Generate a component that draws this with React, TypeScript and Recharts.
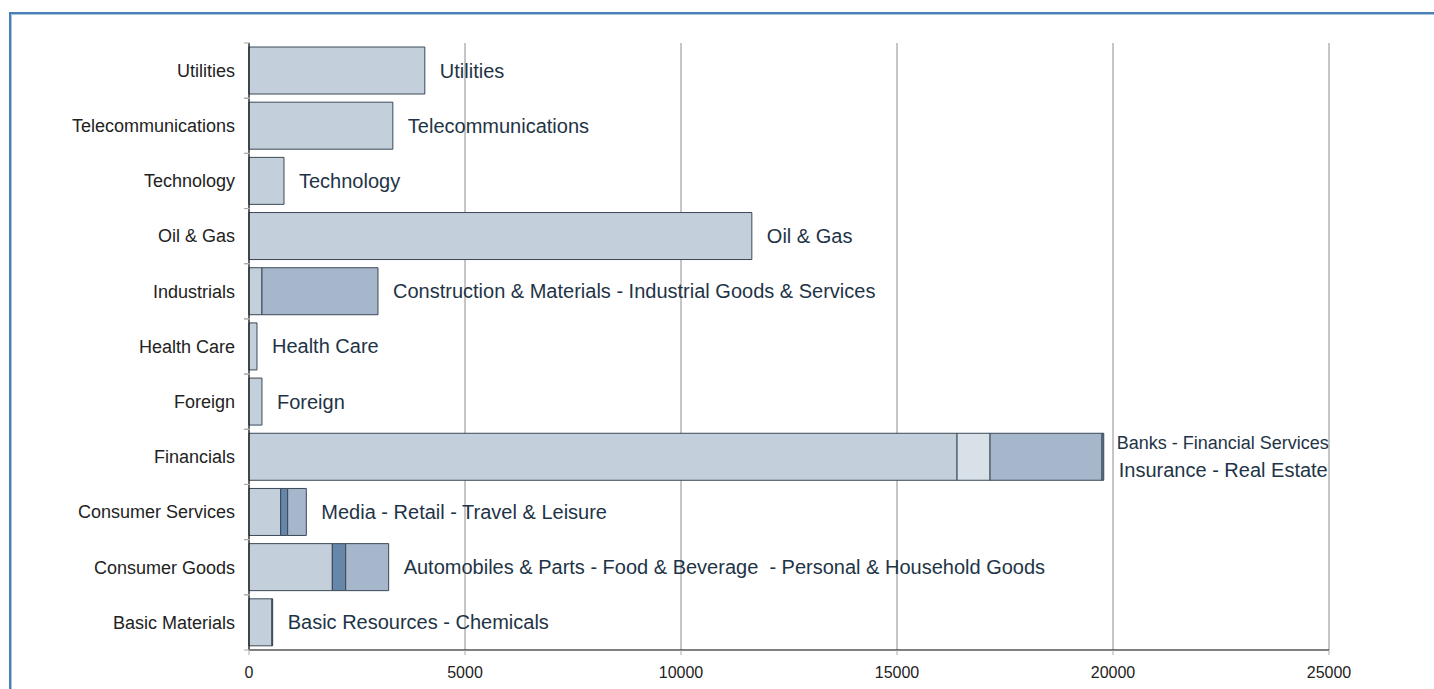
import { BarChart, Bar, XAxis, YAxis, CartesianGrid, Cell, LabelList } from 'recharts';

// sectors, top to bottom
const categories = [
  'Utilities',
  'Telecommunications',
  'Technology',
  'Oil & Gas',
  'Industrials',
  'Health Care',
  'Foreign',
  'Financials',
  'Consumer Services',
  'Consumer Goods',
  'Basic Materials',
];

// stacked segments per sector
const seg1 = [4070, 3330, 810, 11640, 300, 185, 300, 16390, 733, 1929, 530];
const seg2 = [0, 0, 0, 0, 2686, 0, 0, 764, 162, 309, 18];
const seg3 = [0, 0, 0, 0, 0, 0, 0, 2592, 432, 995, 0];
const seg4 = [0, 0, 0, 0, 0, 0, 0, 40, 0, 0, 0];

const barLabels = [
  'Utilities',
  'Telecommunications',
  'Technology',
  'Oil & Gas',
  'Construction & Materials - Industrial Goods & Services',
  'Health Care',
  'Foreign',
  'Banks - Financial Services|Insurance - Real Estate',
  'Media - Retail - Travel & Leisure',
  'Automobiles & Parts - Food & Beverage  - Personal & Household Goods',
  'Basic Resources - Chemicals',
];

const xTicks = [0, 5000, 10000, 15000, 20000, 25000];

const LIGHT = '#c3d0dc';
const PALE = '#d9e1e8';
const MID = '#a6b7cc';
const DARK = '#6686aa';

// fill of each segment (seg1..seg4) by sector
const segColors: Record<string, string[]> = {
  Industrials: [LIGHT, MID, MID, MID],
  Financials: [LIGHT, PALE, MID, DARK],
  'Consumer Services': [LIGHT, DARK, MID, MID],
  'Consumer Goods': [LIGHT, DARK, MID, MID],
  'Basic Materials': [LIGHT, DARK, MID, MID],
};

const data = categories.map((name, i) => ({
  name,
  s1: seg1[i],
  s2: seg2[i],
  s3: seg3[i],
  s4: seg4[i],
  total: seg1[i] + seg2[i] + seg3[i] + seg4[i],
  label: barLabels[i],
}));

const FONT = 'Arial, "Liberation Sans", Helvetica, sans-serif';
const TEXT = '#1e3446';
const STROKE = '#3a4856';

const colorFor = (name: string, k: number) => (segColors[name] ? segColors[name][k] : LIGHT);

const YTick = (props: any) => {
  const { x, y, payload } = props;
  return (
    <g>
      <line x1={x + 3} x2={x + 9} y1={y - 27.6} y2={y - 27.6} stroke="#aaa" />
      <line x1={x + 3} x2={x + 9} y1={y + 27.6} y2={y + 27.6} stroke="#aaa" />
      <text x={x - 6} y={y} dy="0.35em" textAnchor="end" fontSize={18} fill="#222" fontFamily={FONT}>
        {payload.value}
      </text>
    </g>
  );
};

// label placed after the whole stack; the first segment's width gives the scale
const EndLabel = (props: any) => {
  const { x, y, width, height, index } = props;
  const d = data[index];
  const end = x + (width * d.total) / d.s1;
  const mid = y + height / 2;
  const text: string = d.label;
  if (text.includes('|')) {
    const [a, b] = text.split('|');
    return (
      <g fontFamily={FONT} fill={TEXT}>
        <text x={end + 13} y={mid - 14} dy="0.35em" fontSize={18}>{a}</text>
        <text x={end + 15} y={mid + 13} dy="0.35em" fontSize={20}>{b}</text>
      </g>
    );
  }
  return (
    <text
      x={end + 15}
      y={mid}
      dy="0.35em"
      fontSize={20}
      fill={TEXT}
      fontFamily={FONT}
      style={{ whiteSpace: 'pre' }}
    >
      {text}
    </text>
  );
};

const keys = ['s1', 's2', 's3', 's4'];

export default function App() {
  return (
    <div style={{ position: 'absolute', left: 0, top: 0, width: 1434, height: 689, background: '#fff', overflow: 'hidden' }}>
      <div
        style={{
          position: 'absolute',
          left: 9,
          top: 12,
          width: 1460,
          height: 720,
          borderLeft: '2px solid #4a80b8',
          borderTop: '2px solid #4a80b8',
          boxShadow: 'inset 1px 1px 0 #a8c3de',
        }}
      />
      <div style={{ position: 'absolute', left: 0, top: 0 }}>
        <BarChart
          width={1434}
          height={689}
          data={data}
          layout="vertical"
          barSize={47}
          margin={{ top: 43, right: 105, bottom: 9, left: 9 }}
        >
          <CartesianGrid horizontal={false} stroke="#8c8c8c" />
          <XAxis
            type="number"
            domain={[0, 25000]}
            ticks={xTicks}
            height={30}
            axisLine={{ stroke: '#000' }}
            tickLine={{ stroke: '#aaa' }}
            tickSize={5}
            tickMargin={12}
            tick={{ fontSize: 16, fill: '#222', fontFamily: FONT }}
            interval={0}
          />
          <YAxis
            type="category"
            dataKey="name"
            width={240}
            axisLine={{ stroke: '#000' }}
            tickLine={false}
            tick={<YTick />}
            interval={0}
          />
          {keys.map((k, ki) => (
            <Bar key={k} dataKey={k} stackId="a" stroke={STROKE} strokeWidth={1} isAnimationActive={false}>
              {data.map((d) => (
                <Cell key={d.name} fill={colorFor(d.name, ki)} />
              ))}
              {ki === 0 && <LabelList dataKey="s1" content={<EndLabel />} />}
            </Bar>
          ))}
        </BarChart>
      </div>
    </div>
  );
}
